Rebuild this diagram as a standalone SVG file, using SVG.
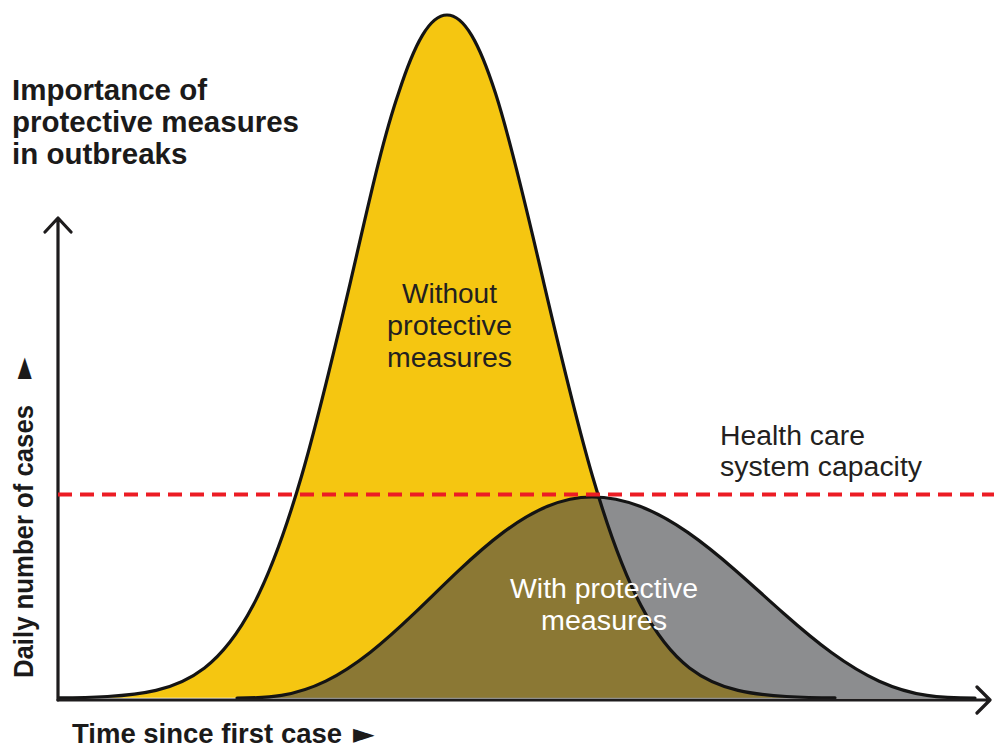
<svg xmlns="http://www.w3.org/2000/svg" xmlns:xlink="http://www.w3.org/1999/xlink" width="994" height="749" viewBox="0 0 994 749">
<style>
.curve{fill:none;stroke:#141414;stroke-width:3.2;stroke-linejoin:round;stroke-linecap:round}
.axis{fill:none;stroke:#1e1c1d;stroke-width:3.2;stroke-linecap:round;stroke-linejoin:round}
.bold{font-family:"Liberation Sans",Arial,sans-serif;font-weight:bold;fill:#1b1a1a}
.lbl{font-family:"Liberation Sans",Arial,sans-serif;font-size:27px;fill:#231f20}
.white{fill:#ffffff}
.tri{font-family:"DejaVu Sans",sans-serif;fill:#1b1a1a}
.cap{fill:none;stroke:#ec1c24;stroke-width:4;stroke-dasharray:14 8}
</style>
<defs>
<path id="yCurve" d="M59,697.8 C75.2,697.7 91.3,697.4 107.5,696.5 C123.7,695.6 139.8,694.2 156,690.4 C172.2,686.6 188.3,680.5 204.5,668 C220.7,655.5 236.8,636.4 253,605.6 C269.2,574.8 285.3,531.7 301.5,476.2 C317.7,420.7 333.8,352.8 350,283.8 C366.2,214.8 381.3,143.5 398.5,93.3 C414.7,43.1 429.8,15 447,15 C464.2,15 479.3,43.1 495.5,93.3 C511.7,143.5 527.8,214.8 544,283.8 C560.2,352.8 576.3,420.7 592.5,476.2 C608.7,531.7 624.8,574.8 641,605.6 C657.2,636.4 673.3,655.5 689.5,668 C705.7,680.5 721.8,686.6 738,690.4 C754.2,694.2 770.3,695.6 786.5,696.5 C802.7,697.4 818.8,697.7 835,697.8"/>
<path id="bCurve" d="M237,698 C251.79,698 266.61,697.83 281.4,695.41 C296.19,692.99 310.96,688.38 325.75,681.17 C340.54,673.96 355.31,664.18 370.1,652.52 C384.89,640.86 399.71,627.33 414.5,613.2 C429.29,599.07 444.11,584.35 458.9,570.43 C473.69,556.51 488.46,543.42 503.25,532.38 C518.04,521.34 532.81,512.37 547.6,506.28 C562.39,500.19 577.21,497 592,497 C607.96,497 623.94,500.19 639.9,506.28 C655.86,512.37 671.79,521.34 687.75,532.38 C703.71,543.42 719.64,556.51 735.6,570.43 C751.56,584.35 767.54,599.07 783.5,613.2 C799.46,627.33 815.44,640.86 831.4,652.52 C847.36,664.18 863.29,673.96 879.25,681.17 C895.21,688.38 911.14,692.99 927.1,695.41 C943.06,697.83 959.04,698 975,698"/>
<clipPath id="clipYellow"><use xlink:href="#yCurve"/></clipPath>
</defs>
<rect x="0" y="0" width="994" height="749" fill="#ffffff"/>

<g id="curve-without">
<use xlink:href="#yCurve" fill="#f5c611"/>
</g>
<g id="curve-with">
<use xlink:href="#bCurve" fill="#8c8d8f"/>
<use xlink:href="#bCurve" fill="#8b7834" clip-path="url(#clipYellow)"/>
</g>
<g id="curve-outlines">
<use xlink:href="#yCurve" class="curve"/>
<use xlink:href="#bCurve" class="curve"/>
</g>

<g id="axes">
<path class="axis" d="M58,700 V218 M45,232 L58,218 L71,232"/>
<path class="axis" d="M58,700 H989 M977,687 L990,700 L977,713"/>
</g>

<g id="capacity-line">
<path class="cap" d="M58,494.5 H994"/>
</g>

<g id="title">
<text class="bold" font-size="29.5" x="12" y="100">Importance of</text>
<text class="bold" font-size="29.5" x="12" y="132">protective measures</text>
<text class="bold" font-size="29.5" x="12" y="164">in outbreaks</text>
</g>

<g id="y-axis-label">
<text class="bold" font-size="28" transform="translate(33,678) rotate(-90)" textLength="273" lengthAdjust="spacingAndGlyphs">Daily number of cases</text>
<text class="tri" font-size="28" transform="translate(32,379) rotate(-90)">►</text>
</g>

<g id="x-axis-label">
<text class="bold" font-size="27.5" x="72" y="743">Time since first case</text>
<text class="tri" font-size="28" x="353" y="743">►</text>
</g>

<g id="label-without">
<text class="lbl" x="402" y="303" textLength="95" lengthAdjust="spacingAndGlyphs">Without</text>
<text class="lbl" x="387" y="335" textLength="125" lengthAdjust="spacingAndGlyphs">protective</text>
<text class="lbl" x="387" y="367" textLength="125" lengthAdjust="spacingAndGlyphs">measures</text>
</g>

<g id="label-with">
<text class="lbl white" x="510" y="598" textLength="188" lengthAdjust="spacingAndGlyphs">With protective</text>
<text class="lbl white" x="541" y="630" textLength="126" lengthAdjust="spacingAndGlyphs">measures</text>
</g>

<g id="label-capacity">
<text class="lbl" x="720" y="445" textLength="145" lengthAdjust="spacingAndGlyphs">Health care</text>
<text class="lbl" x="720" y="476" textLength="202" lengthAdjust="spacingAndGlyphs">system capacity</text>
</g>
</svg>
